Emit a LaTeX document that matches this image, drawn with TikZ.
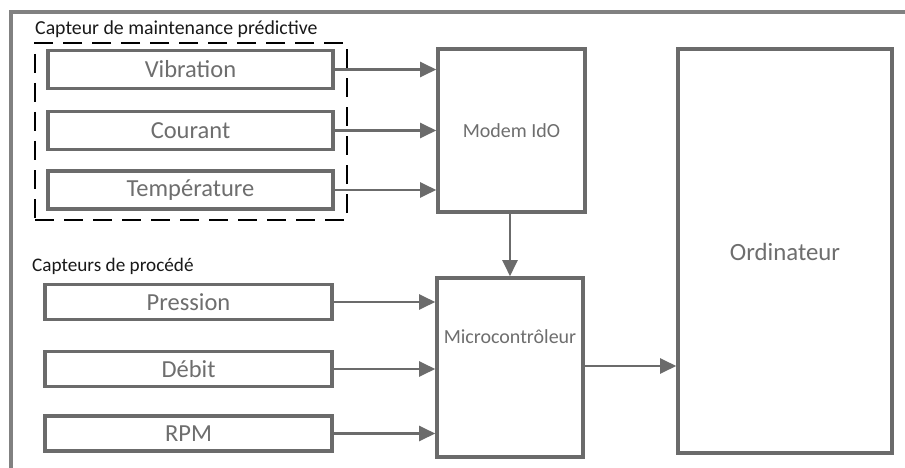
\documentclass[tikz,border=0pt]{standalone}
\usepackage{fontspec}
\setmainfont{Carlito}
\usetikzlibrary{arrows.meta}
\definecolor{lc}{HTML}{6B6B6B}
\definecolor{tc}{HTML}{6E6E6E}
\begin{document}
\begin{tikzpicture}[x=1pt,y=-1pt,
  sensor/.style={draw=lc,line width=3.6pt,rectangle,minimum width=285pt,minimum height=38pt,inner sep=0pt,text=tc,font=\fontsize{24.5}{26}\selectfont},
  psensor/.style={sensor,minimum width=287pt,minimum height=35pt},
  unit/.style={draw=lc,line width=3.6pt,rectangle,inner sep=0pt},
  utext/.style={text=tc,inner sep=0pt},
  conn/.style={draw=lc,line width=2.3pt,-{Triangle[length=16pt,width=15pt]}},
  grp/.style={draw=black,line width=2.6pt,dash pattern=on 19pt off 10pt,rectangle,inner sep=0pt,minimum width=312pt,minimum height=177pt},
  ttl/.style={anchor=west,inner sep=0pt,text=black!90,font=\fontsize{19.8}{22}\selectfont}]
\useasboundingbox (0,0) rectangle (905,468);
\fill[white] (0,0) rectangle (905,468);
% outer frame
\coordinate (fa) at (11,468);
\coordinate (fb) at (11,12);
\coordinate (fc) at (905,12);
\draw[lc!85,line width=3.4pt] (fa) -- (fb) -- (fc);
% group
\node[grp] (grp) at (191,131.5) {};
\node[ttl] (t1) at (35,29) {Capteur de maintenance prédictive};
\node[ttl,font=\fontsize{19.2}{22}\selectfont] (t2) at (32,266) {Capteurs de procédé};
% sensors
\node[sensor] (vib) at (190.5,69.5) {Vibration};
\node[sensor] (cou) at (190.5,130.5) {Courant};
\node[sensor] (tem) at (190.5,190) {Température};
\node[psensor] (pre) at (188.5,302) {Pression};
\node[psensor] (deb) at (188.5,369) {Débit};
\node[psensor] (rpm) at (188.5,433.5) {RPM};
% units
\node[unit,minimum width=147pt,minimum height=163pt] (modem) at (511.5,130.5) {};
\node[utext,font=\fontsize{20}{22}\selectfont] (modemt) at (511.5,131) {Modem IdO};
\node[unit,minimum width=146pt,minimum height=179pt] (micro) at (510,367.5) {};
\node[utext,font=\fontsize{20}{22}\selectfont] (microt) at (510,337) {Microcontrôleur};
\node[unit,minimum width=214pt,minimum height=404pt] (ord) at (785,251) {};
\node[utext,font=\fontsize{24.8}{26}\selectfont] (ordt) at (785,252) {Ordinateur};
% connectors
\draw[conn] (vib.east) -- (vib.east -| modem.west);
\draw[conn] (cou.east) -- (cou.east -| modem.west);
\draw[conn] (tem.east) -- (tem.east -| modem.west);
\draw[conn] (pre.east) -- (pre.east -| micro.west);
\draw[conn] (deb.east) -- (deb.east -| micro.west);
\draw[conn] (rpm.east) -- (rpm.east -| micro.west);
\draw[conn] (micro.north |- modem.south) -- (micro.north);
\draw[conn] ([yshift=1.5pt]micro.east) -- ([yshift=1.5pt]micro.east -| ord.west);
\end{tikzpicture}
\end{document}
